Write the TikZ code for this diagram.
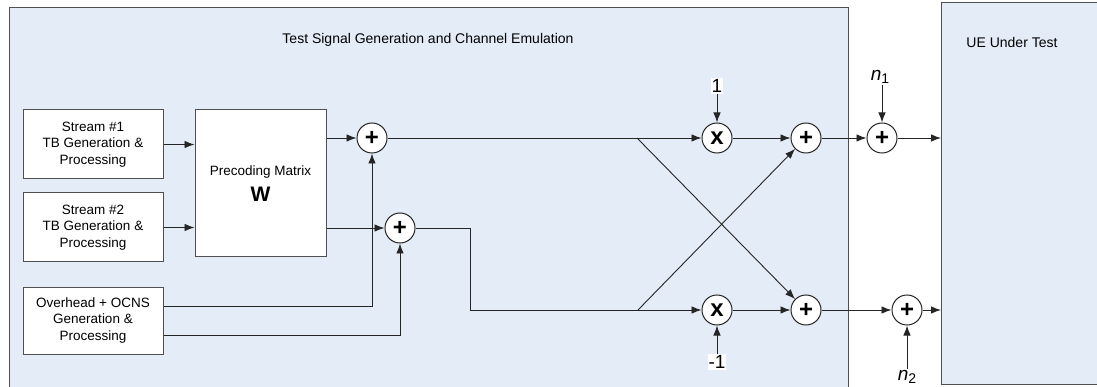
\documentclass[tikz,border=0pt]{standalone}
\usepackage{fontspec}
\setmainfont{Liberation Sans}
\usetikzlibrary{arrows.meta,calc}
\definecolor{panel}{HTML}{E4ECF7}
\definecolor{edge}{HTML}{505050}
\definecolor{wire}{HTML}{252525}
\tikzset{
  blk/.style={draw=edge,fill=white,line width=1pt,align=center,font=\fontsize{13.5}{16.5}\selectfont,inner sep=0pt},
  sumnode/.style={circle,draw=wire,fill=white,line width=1pt,minimum size=30pt,inner sep=0pt,font=\fontsize{24}{24}\selectfont\bfseries},
  wirel/.style={draw=wire,line width=0.9pt},
  arr/.style={wirel,-{Latex[length=10pt,width=7.5pt]}},
  lbl/.style={font=\fontsize{19}{19}\selectfont,inner sep=1pt},
}
\begin{document}
\begin{tikzpicture}[x=1pt,y=-1pt]
\useasboundingbox (0,0) rectangle (1097,387);
% panels
\path[fill=panel,draw=edge,line width=1pt] (9,395) -- (9,8) -- (848,8) -- (848,395);
\path[fill=panel,draw=edge,line width=1pt] (1105,3) -- (941,3) -- (941,384) -- (1105,384);
\node[font=\fontsize{14}{16}\selectfont] (title) at (428,40) {Test Signal Generation and Channel Emulation};
\node[font=\fontsize{14}{16}\selectfont] (uetitle) at (1012,42) {UE Under Test};
% source blocks
\node[blk,minimum width=140pt,minimum height=69pt] (s1) at (93,144.5) {Stream \#1\\TB Generation \&\\Processing};
\node[blk,minimum width=140pt,minimum height=69pt] (s2) at (93,227.5) {Stream \#2\\TB Generation \&\\Processing};
\node[blk,minimum width=140pt,minimum height=67pt] (oh) at (93,320.5) {Overhead + OCNS\\Generation \&\\Processing};
\node[blk,minimum width=131pt,minimum height=147pt] (pm) at (260.5,183.5) {};
\node[font=\fontsize{13.5}{15}\selectfont] (pmt) at (260.5,172) {Precoding Matrix};
\node[font=\fontsize{21}{21}\selectfont\bfseries] (pmw) at (260.5,194) {W};
% circles
\node[sumnode] (a1) at (372,138) {+};
\node[sumnode] (a2) at (400,228) {+};
\node[sumnode] (x1) at (717,138) {x};
\node[sumnode] (x2) at (717,310) {x};
\node[sumnode] (a3) at (806,138) {+};
\node[sumnode] (a4) at (806,310) {+};
\node[sumnode] (a5) at (882,138) {+};
\node[sumnode] (a6) at (907,310) {+};
% labels
\node[lbl,fill=white] (one) at (717,86) {1};
\node[lbl,fill=white] (mone) at (717,362) {-1};
\node[lbl] (n1) at (880,77) {\itshape n\raisebox{-0.35ex}{\fontsize{14}{14}\selectfont\upshape 1}};
\node[lbl] (n2) at (907,377) {\itshape n\raisebox{-0.35ex}{\fontsize{14}{14}\selectfont\upshape 2}};
\coordinate (b1) at (637,138);
\coordinate (b2) at (638,310);
\coordinate (j2) at (470,228);
\coordinate (ue1) at (941,138);
\coordinate (ue2) at (941,310);
% connectors
\draw[arr] (s1.east) -- (pm.west |- s1.east);
\draw[arr] (s2.east) -- (pm.west |- s2.east);
\draw[arr] (pm.east |- a1) -- (a1.west);
\draw[arr] (pm.east |- a2) -- (a2.west);
\draw[arr] ($(oh.east)+(0,-14.5)$) -| (a1.south);
\draw[arr] ($(oh.east)+(0,14.5)$) -| (a2.south);
\draw[wirel] (a2.east) -- (j2) |- (b2);
\draw[arr] (b2) -- (x2.west);
\draw[arr] (a1.east) -- (x1.west);
\draw[arr] (b1) -- (a4.north west);
\draw[arr] (b2) -- (a3.south west);
\draw[arr] (x1.east) -- (a3.west);
\draw[arr] (x2.east) -- (a4.west);
\draw[arr] (one.south) -- (x1.north);
\draw[arr] (mone.north) -- (x2.south);
\draw[arr] (a3.east) -- (a5.west);
\draw[arr] (a4.east) -- (a6.west);
\draw[arr] (n1.south -| a5) -- (a5.north);
\draw[arr] (a6 |- n2.north) -- (a6.south);
\draw[arr] (a5.east) -- (ue1);
\draw[arr] (a6.east) -- (ue2);
\end{tikzpicture}
\end{document}
